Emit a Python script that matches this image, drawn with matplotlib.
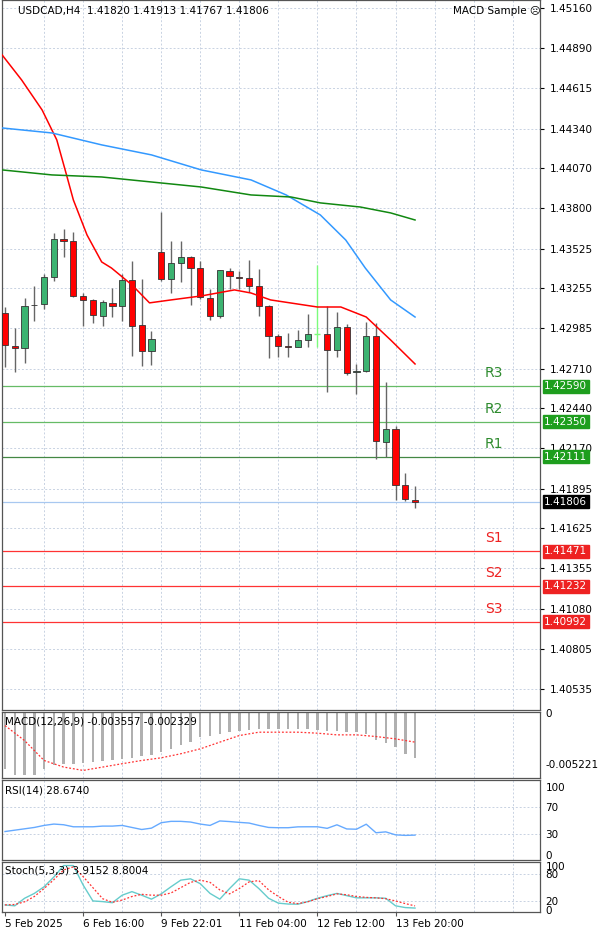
import numpy as np
import matplotlib.pyplot as plt
from matplotlib.patches import Rectangle

# ---- price data (H4 candles) ----
opens = [1.43086, 1.42867, 1.42849, 1.43145, 1.43147, 1.43331, 1.43589, 1.43580, 1.43204, 1.43177,
         1.43070, 1.43156, 1.43134, 1.43310, 1.43007, 1.42830, 1.43501, 1.43322, 1.43426, 1.43467,
         1.43392, 1.43193, 1.43070, 1.43372, 1.43335, 1.43324, 1.43270, 1.43134, 1.42932, 1.42864,
         1.42860, 1.42903, 1.42944, 1.42944, 1.42837, 1.42991, 1.42686, 1.42697, 1.42932, 1.42212,
         1.42303, 1.41920, 1.41820]
highs = [1.43132, 1.42984, 1.43193, 1.43272, 1.43353, 1.43630, 1.43657, 1.43636, 1.43222, 1.43186,
         1.43177, 1.43256, 1.43353, 1.43444, 1.43317, 1.42966, 1.43772, 1.43578, 1.43580, 1.43476,
         1.43442, 1.43249, 1.43381, 1.43396, 1.43374, 1.43449, 1.43385, 1.43141, 1.42944, 1.42955,
         1.42973, 1.43080, 1.43415, 1.43136, 1.43098, 1.43014, 1.42742, 1.43025, 1.43018, 1.42622,
         1.42321, 1.42000, 1.41913]
lows = [1.42724, 1.42690, 1.42747, 1.43036, 1.43113, 1.43308, 1.43467, 1.43195, 1.43000, 1.43018,
        1.43003, 1.43064, 1.43036, 1.42797, 1.42729, 1.42735, 1.43306, 1.43222, 1.43301, 1.43143,
        1.43181, 1.43041, 1.43055, 1.43249, 1.43249, 1.43233, 1.43070, 1.42785, 1.42787, 1.42787,
        1.42860, 1.42860, 1.42860, 1.42550, 1.42787, 1.42668, 1.42536, 1.42690, 1.42099, 1.42108,
        1.41819, 1.41812, 1.41767]
closes = [1.42871, 1.42853, 1.43138, 1.43141, 1.43331, 1.43589, 1.43575, 1.43206, 1.43177, 1.43073,
          1.43161, 1.43136, 1.43310, 1.43000, 1.42830, 1.42912, 1.43322, 1.43426, 1.43467, 1.43392,
          1.43195, 1.43070, 1.43378, 1.43338, 1.43324, 1.43272, 1.43134, 1.42935, 1.42862, 1.42860,
          1.42903, 1.42944, 1.42941, 1.42837, 1.42996, 1.42679, 1.42692, 1.42932, 1.42217, 1.42303,
          1.41920, 1.41823, 1.41806]
odd_bar = 32  # light-green doji

# moving averages (bar index, price)
ma_red_x = [-0.3, 1.7, 3.8, 5.3, 6.3, 7.0, 8.4, 9.9, 10.9, 13, 14.8, 17.0, 20.1, 23.5, 25.2,
            27.2, 32, 34.4, 37, 39.5, 42]
ma_red_y = [1.44841, 1.44671, 1.44467, 1.44264, 1.44026, 1.43856, 1.43618, 1.43435, 1.43394,
            1.43279, 1.43157, 1.43177, 1.43204, 1.43245, 1.43224, 1.43177, 1.43129, 1.43129,
            1.43061, 1.42905, 1.42742]
ma_blue_x = [-0.3, 4.8, 9.9, 15, 20.1, 25.2, 28.8, 32.3, 34.9, 36.9, 39.5, 42]
ma_blue_y = [1.44345, 1.44311, 1.44230, 1.44162, 1.44060, 1.43992, 1.43890, 1.43754, 1.43584,
             1.43394, 1.43177, 1.43061]
ma_green_x = [-0.3, 4.8, 9.9, 15, 20.1, 25.2, 29.3, 32.3, 36.4, 39.5, 42]
ma_green_y = [1.44060, 1.44026, 1.44012, 1.43978, 1.43944, 1.43890, 1.43876, 1.43836, 1.43808,
              1.43768, 1.43720]

res_levels = [1.42590, 1.42350, 1.42111]
res_names = ["R3", "R2", "R1"]
sup_levels = [1.41471, 1.41232, 1.40992]
sup_names = ["S1", "S2", "S3"]
last_price = 1.41806

price_ticks = [1.45160, 1.44890, 1.44615, 1.44340, 1.44070, 1.43800, 1.43525, 1.43255, 1.42985,
               1.42710, 1.42440, 1.42170, 1.41895, 1.41625, 1.41355, 1.41080, 1.40805, 1.40535]

macd_hist = [-0.00566, -0.00633, -0.00633, -0.00633, -0.00566, -0.00532, -0.00515, -0.00515,
             -0.00509, -0.00498, -0.00492, -0.00482, -0.00465, -0.00455, -0.00441, -0.00424,
             -0.00397, -0.00364, -0.00330, -0.00296, -0.00246, -0.00229, -0.00212, -0.00195,
             -0.00179, -0.00172, -0.00162, -0.00162, -0.00162, -0.00162, -0.00162, -0.00162,
             -0.00172, -0.00179, -0.00185, -0.00195, -0.00195, -0.00212, -0.00273, -0.00306,
             -0.00347, -0.00414, -0.00455]
macd_sig_x = [0, 2, 4, 6, 8, 10, 12, 14, 16, 18, 20, 22, 24, 26, 28, 30, 32, 34, 36, 38, 40, 42]
macd_sig_y = [-0.00128, -0.00280, -0.00482, -0.00549, -0.00583, -0.00549, -0.00515, -0.00482,
              -0.00455, -0.00414, -0.00364, -0.00296, -0.00229, -0.00195, -0.00195, -0.00195,
              -0.00205, -0.00222, -0.00222, -0.00239, -0.00263, -0.00296]

rsi = [34, 36, 38, 40, 43, 45, 44, 41, 41, 41, 42, 42, 43, 40, 37, 39, 47, 49, 49, 48, 45, 43,
       49.6, 48.7, 47.5, 46.5, 43, 40, 39.6, 39.6, 40.9, 41, 41, 38.7, 43.9, 37.8, 37.4, 44.8,
       32.2, 33.5, 29.1, 28.3, 28.7]

stoch_k = [11, 9, 26, 37, 52, 74, 100, 100, 56, 20, 18.5, 16, 33, 41, 33, 24, 36, 52, 67, 70, 59,
           37, 24, 48, 70, 67, 48, 26, 15, 13, 12.6, 18.5, 26, 32, 37, 32, 27, 27, 27, 26, 9, 5, 3.9]
stoch_d = [11, 12, 18, 30, 48, 68, 90, 97, 75, 50, 25, 17, 22, 30, 35, 33, 33, 38, 50, 62, 67, 62,
           45, 36, 48, 63, 66, 45, 30, 17, 14, 18, 25, 30, 36, 34, 30, 28, 27, 25, 20, 14, 8.8]

date_ticks = [0, 8, 16, 24, 32, 40]
date_labels = ["5 Feb 2025", "6 Feb 16:00", "9 Feb 22:01", "11 Feb 04:00", "12 Feb 12:00", "13 Feb 20:00"]

W, H = 600, 934
fig = plt.figure(figsize=(6, 9.34), dpi=100)
fig.patch.set_facecolor("white")
plt.rcParams['font.family'] = ['DejaVu Sans']
FS = 7.5
GRID = dict(color="#c8d2e2", linestyle=(0, (2, 2)), linewidth=0.7)
XL = (-0.31, 54.8)
grid_x = np.arange(4, 56, 4)


def panel(top, bottom):
    ax = fig.add_axes([2 / W, 1 - bottom / H, 538 / W, (bottom - top) / H])
    ax.set_xlim(*XL)
    ax.yaxis.tick_right()
    ax.tick_params(axis="y", labelsize=FS, length=3, pad=4, colors="black")
    ax.tick_params(axis="x", bottom=False, labelbottom=False)
    for s in ax.spines.values():
        s.set_color("#555555")
        s.set_linewidth(0.9)
    for gx in grid_x:
        ax.axvline(gx, zorder=0, **GRID)
    return ax


# ---- main price panel ----
ax = panel(0, 710)
ax.set_ylim(1.40392, 1.45214)
ax.set_yticks(price_ticks)
ax.set_yticklabels([f"{t:.5f}" for t in price_ticks])
for t in price_ticks:
    ax.axhline(t, zorder=0, **GRID)

for i in range(len(opens)):
    o, h, l, c = opens[i], highs[i], lows[i], closes[i]
    if i == odd_bar:
        ax.vlines(i, l, h, color="#7CFC7C", linewidth=1, zorder=3)
        ax.hlines(o, i - 0.3, i + 0.3, color="#7CFC7C", linewidth=1, zorder=3)
        continue
    ax.vlines(i, l, h, color="#666666", linewidth=1, zorder=2)
    col = "#3cb371" if c >= o else "#ff0000"
    lo, hi = min(o, c), max(o, c)
    ax.add_patch(Rectangle((i - 0.32, lo), 0.64, max(hi - lo, 0.00003), facecolor=col,
                           edgecolor="#333333", linewidth=0.6, zorder=3))

ax.plot(ma_red_x, ma_red_y, color="#ff0000", linewidth=1.1, zorder=4)
ax.plot(ma_blue_x, ma_blue_y, color="#3399ff", linewidth=1.1, zorder=4)
ax.plot(ma_green_x, ma_green_y, color="#118811", linewidth=1.1, zorder=4)

lbl_x = 1.008
for lv, nm, lc in zip(res_levels, res_names, ["#66bb66", "#66bb66", "#448844"]):
    ax.axhline(lv, color=lc, linewidth=0.9, zorder=1)
    ax.text(0.915, lv + 0.0004, nm, transform=ax.get_yaxis_transform(), color="#2e8b2e",
            fontsize=10, ha="center", va="bottom")
    ax.text(lbl_x, lv, f"{lv:.5f}", transform=ax.get_yaxis_transform(), fontsize=FS,
            color="white", va="center", ha="left", clip_on=False, zorder=6,
            bbox=dict(boxstyle="square,pad=0.15", fc="#1e9e1e", ec="#1e9e1e"))
for lv, nm in zip(sup_levels, sup_names):
    ax.axhline(lv, color="#ff3333", linewidth=0.9, zorder=1)
    ax.text(0.915, lv + 0.0004, nm, transform=ax.get_yaxis_transform(), color="#ee2222",
            fontsize=10, ha="center", va="bottom")
    ax.text(lbl_x, lv, f"{lv:.5f}", transform=ax.get_yaxis_transform(), fontsize=FS,
            color="white", va="center", ha="left", clip_on=False, zorder=6,
            bbox=dict(boxstyle="square,pad=0.15", fc="#ee2222", ec="#ee2222"))
ax.axhline(last_price, color="#a8c8f0", linewidth=0.9, zorder=1)
ax.text(lbl_x, last_price, f"{last_price:.5f}", transform=ax.get_yaxis_transform(),
        fontsize=FS, color="white", va="center", ha="left", clip_on=False, zorder=6,
        bbox=dict(boxstyle="square,pad=0.15", fc="black", ec="black"))

ax.text(0.03, 0.992, "USDCAD,H4  1.41820 1.41913 1.41767 1.41806", transform=ax.transAxes,
        fontsize=FS, va="top", ha="left")
ax.text(0.838, 0.992, "MACD Sample \u2639", transform=ax.transAxes, fontsize=FS,
        va="top", ha="left")

# ---- MACD ----
am = panel(712, 778)
am.set_ylim(-0.0066, 0.0001)
am.bar(range(len(macd_hist)), macd_hist, width=0.25, color="#b0b0b0", zorder=2)
am.plot(macd_sig_x, macd_sig_y, color="#ff3333", linestyle=(0, (1.5, 1.5)), linewidth=0.9, zorder=3)
am.set_yticks([0, -0.005221])
am.set_yticklabels(["0", "-0.005221"])
am.tick_params(axis="y", length=0)
am.text(0.005, 0.93, "MACD(12,26,9) -0.003557 -0.002329", transform=am.transAxes,
        fontsize=FS, va="top")

# ---- RSI ----
ar = panel(780, 860)
ar.set_ylim(-8, 110)
ar.plot(range(len(rsi)), rsi, color="#66aaff", linewidth=1.0)
for lv in [70, 30]:
    ar.axhline(lv, zorder=0, **GRID)
ar.set_yticks([100, 70, 30, 0])
ar.tick_params(axis="y", length=0)
ar.text(0.005, 0.93, "RSI(14) 28.6740", transform=ar.transAxes, fontsize=FS, va="top")

# ---- Stochastic ----
ast = panel(862, 912)
ast.set_ylim(-5, 108)
ast.plot(range(len(stoch_k)), stoch_k, color="#66cccc", linewidth=1.0)
ast.plot(range(len(stoch_d)), stoch_d, color="#ff3333", linestyle=(0, (1.5, 1.5)), linewidth=0.9)
for lv in [80, 20]:
    ast.axhline(lv, zorder=0, **GRID)
ast.set_yticks([100, 80, 20, 0])
ast.tick_params(axis="y", length=0)
ast.text(0.005, 0.93, "Stoch(5,3,3) 3.9152 8.8004", transform=ast.transAxes, fontsize=FS, va="top")

ast.tick_params(axis="x", bottom=True, labelbottom=True, length=3, pad=2, labelsize=FS,
                color="#555555")
ast.set_xticks(date_ticks)
ast.set_xticklabels(date_labels, ha="left")

fig.savefig("out.png", dpi=100)
